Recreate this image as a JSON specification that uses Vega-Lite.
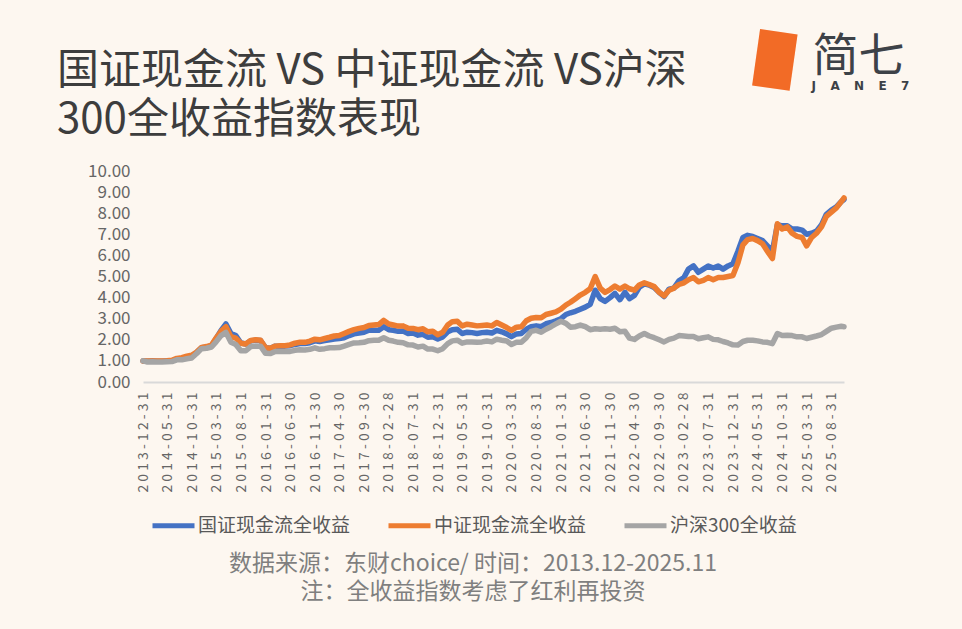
{
  "$schema": "https://vega.github.io/schema/vega-lite/v6.json",
  "width": 701,
  "height": 211,
  "autosize": {"type": "none"},
  "padding": {"left": 143, "top": 171, "right": 118, "bottom": 247},
  "background": "#fdf7f0",
  "title": {
    "text": ["国证现金流 VS 中证现金流 VS沪深", "300全收益指数表现"],
    "font": "Noto Sans CJK SC",
    "fontSize": 42,
    "fontWeight": "normal",
    "color": "#3d3d3d",
    "anchor": "start",
    "frame": "group",
    "baseline": "top",
    "lineHeight": 49,
    "dx": -86,
    "offset": -109
  },
  "datasets": {
    "gz": [
      {"d": "2013-12-31", "v": 1.00},
      {"d": "2014-01-28", "v": 0.98}, {"d": "2014-02-28", "v": 0.99}, {"d": "2014-03-28", "v": 0.98}, {"d": "2014-04-28", "v": 0.98},
      {"d": "2014-05-28", "v": 0.99}, {"d": "2014-06-28", "v": 1.00}, {"d": "2014-07-28", "v": 1.08}, {"d": "2014-08-28", "v": 1.10},
      {"d": "2014-09-28", "v": 1.17}, {"d": "2014-10-28", "v": 1.22}, {"d": "2014-11-28", "v": 1.40}, {"d": "2014-12-28", "v": 1.62},
      {"d": "2015-01-28", "v": 1.65}, {"d": "2015-02-28", "v": 1.72}, {"d": "2015-03-28", "v": 2.05}, {"d": "2015-04-28", "v": 2.45},
      {"d": "2015-05-28", "v": 2.75}, {"d": "2015-06-28", "v": 2.30}, {"d": "2015-07-28", "v": 2.20}, {"d": "2015-08-28", "v": 1.85},
      {"d": "2015-09-28", "v": 1.80}, {"d": "2015-10-28", "v": 1.95}, {"d": "2015-11-28", "v": 1.98}, {"d": "2015-12-28", "v": 1.97},
      {"d": "2016-01-28", "v": 1.62}, {"d": "2016-02-28", "v": 1.60}, {"d": "2016-03-28", "v": 1.70}, {"d": "2016-04-28", "v": 1.70},
      {"d": "2016-05-28", "v": 1.70}, {"d": "2016-06-28", "v": 1.72}, {"d": "2016-07-28", "v": 1.78}, {"d": "2016-08-28", "v": 1.82},
      {"d": "2016-09-28", "v": 1.82}, {"d": "2016-10-28", "v": 1.86}, {"d": "2016-11-28", "v": 1.95}, {"d": "2016-12-28", "v": 1.92},
      {"d": "2017-01-28", "v": 1.96}, {"d": "2017-02-28", "v": 2.00}, {"d": "2017-03-28", "v": 2.04}, {"d": "2017-04-28", "v": 2.06},
      {"d": "2017-05-28", "v": 2.10}, {"d": "2017-06-28", "v": 2.20}, {"d": "2017-07-28", "v": 2.28}, {"d": "2017-08-28", "v": 2.32},
      {"d": "2017-09-28", "v": 2.36}, {"d": "2017-10-28", "v": 2.45}, {"d": "2017-11-28", "v": 2.45}, {"d": "2017-12-28", "v": 2.45},
      {"d": "2018-01-28", "v": 2.62}, {"d": "2018-02-28", "v": 2.48}, {"d": "2018-03-28", "v": 2.45}, {"d": "2018-04-28", "v": 2.40},
      {"d": "2018-05-28", "v": 2.42}, {"d": "2018-06-28", "v": 2.30}, {"d": "2018-07-28", "v": 2.32}, {"d": "2018-08-28", "v": 2.22},
      {"d": "2018-09-28", "v": 2.26}, {"d": "2018-10-28", "v": 2.12}, {"d": "2018-11-28", "v": 2.14}, {"d": "2018-12-28", "v": 2.04},
      {"d": "2019-01-28", "v": 2.14}, {"d": "2019-02-28", "v": 2.38}, {"d": "2019-03-28", "v": 2.48}, {"d": "2019-04-28", "v": 2.50},
      {"d": "2019-05-28", "v": 2.30}, {"d": "2019-06-28", "v": 2.36}, {"d": "2019-07-28", "v": 2.34}, {"d": "2019-08-28", "v": 2.30},
      {"d": "2019-09-28", "v": 2.34}, {"d": "2019-10-28", "v": 2.36}, {"d": "2019-11-28", "v": 2.32}, {"d": "2019-12-28", "v": 2.45},
      {"d": "2020-01-28", "v": 2.38}, {"d": "2020-02-28", "v": 2.28}, {"d": "2020-03-28", "v": 2.15}, {"d": "2020-04-28", "v": 2.28},
      {"d": "2020-05-28", "v": 2.30}, {"d": "2020-06-28", "v": 2.50}, {"d": "2020-07-28", "v": 2.62}, {"d": "2020-08-28", "v": 2.66},
      {"d": "2020-09-28", "v": 2.62}, {"d": "2020-10-28", "v": 2.76}, {"d": "2020-11-28", "v": 2.82}, {"d": "2020-12-28", "v": 2.90},
      {"d": "2021-01-28", "v": 3.00}, {"d": "2021-02-28", "v": 3.20}, {"d": "2021-03-28", "v": 3.28}, {"d": "2021-04-28", "v": 3.35},
      {"d": "2021-05-28", "v": 3.45}, {"d": "2021-06-28", "v": 3.55}, {"d": "2021-07-28", "v": 3.68}, {"d": "2021-08-28", "v": 4.35},
      {"d": "2021-09-28", "v": 3.95}, {"d": "2021-10-28", "v": 3.82}, {"d": "2021-11-28", "v": 4.00}, {"d": "2021-12-28", "v": 4.20},
      {"d": "2022-01-28", "v": 3.90}, {"d": "2022-02-28", "v": 4.25}, {"d": "2022-03-28", "v": 3.95}, {"d": "2022-04-28", "v": 4.10},
      {"d": "2022-05-28", "v": 4.50}, {"d": "2022-06-28", "v": 4.65}, {"d": "2022-07-28", "v": 4.60}, {"d": "2022-08-28", "v": 4.48},
      {"d": "2022-09-28", "v": 4.25}, {"d": "2022-10-28", "v": 4.05}, {"d": "2022-11-28", "v": 4.40}, {"d": "2022-12-28", "v": 4.45},
      {"d": "2023-01-28", "v": 4.80}, {"d": "2023-02-28", "v": 4.95}, {"d": "2023-03-28", "v": 5.35}, {"d": "2023-04-28", "v": 5.50},
      {"d": "2023-05-28", "v": 5.20}, {"d": "2023-06-28", "v": 5.35}, {"d": "2023-07-28", "v": 5.50}, {"d": "2023-08-28", "v": 5.40},
      {"d": "2023-09-28", "v": 5.50}, {"d": "2023-10-28", "v": 5.35}, {"d": "2023-11-28", "v": 5.50}, {"d": "2023-12-28", "v": 5.60},
      {"d": "2024-01-28", "v": 6.20}, {"d": "2024-02-28", "v": 6.85}, {"d": "2024-03-28", "v": 6.95}, {"d": "2024-04-28", "v": 6.90},
      {"d": "2024-05-28", "v": 6.80}, {"d": "2024-06-28", "v": 6.70}, {"d": "2024-07-28", "v": 6.45}, {"d": "2024-08-28", "v": 6.20},
      {"d": "2024-09-28", "v": 7.45}, {"d": "2024-10-28", "v": 7.40}, {"d": "2024-11-28", "v": 7.40}, {"d": "2024-12-28", "v": 7.25},
      {"d": "2025-01-28", "v": 7.25}, {"d": "2025-02-28", "v": 7.20}, {"d": "2025-03-28", "v": 7.00}, {"d": "2025-04-28", "v": 7.05},
      {"d": "2025-05-28", "v": 7.15}, {"d": "2025-06-28", "v": 7.45}, {"d": "2025-07-28", "v": 7.95}, {"d": "2025-08-28", "v": 8.15},
      {"d": "2025-09-28", "v": 8.30}, {"d": "2025-10-28", "v": 8.55}, {"d": "2025-11-14", "v": 8.65}
    ],
    "zz": [
      {"d": "2013-12-31", "v": 1.00},
      {"d": "2014-01-28", "v": 0.99}, {"d": "2014-02-28", "v": 1.00}, {"d": "2014-03-28", "v": 1.00}, {"d": "2014-04-28", "v": 1.00},
      {"d": "2014-05-28", "v": 1.01}, {"d": "2014-06-28", "v": 1.03}, {"d": "2014-07-28", "v": 1.12}, {"d": "2014-08-28", "v": 1.15},
      {"d": "2014-09-28", "v": 1.22}, {"d": "2014-10-28", "v": 1.27}, {"d": "2014-11-28", "v": 1.42}, {"d": "2014-12-28", "v": 1.64},
      {"d": "2015-01-28", "v": 1.68}, {"d": "2015-02-28", "v": 1.75}, {"d": "2015-03-28", "v": 2.08}, {"d": "2015-04-28", "v": 2.40},
      {"d": "2015-05-28", "v": 2.62}, {"d": "2015-06-28", "v": 2.15}, {"d": "2015-07-28", "v": 2.08}, {"d": "2015-08-28", "v": 1.84},
      {"d": "2015-09-28", "v": 1.80}, {"d": "2015-10-28", "v": 1.97}, {"d": "2015-11-28", "v": 2.00}, {"d": "2015-12-28", "v": 1.98},
      {"d": "2016-01-28", "v": 1.62}, {"d": "2016-02-28", "v": 1.60}, {"d": "2016-03-28", "v": 1.70}, {"d": "2016-04-28", "v": 1.72},
      {"d": "2016-05-28", "v": 1.72}, {"d": "2016-06-28", "v": 1.76}, {"d": "2016-07-28", "v": 1.84}, {"d": "2016-08-28", "v": 1.88},
      {"d": "2016-09-28", "v": 1.88}, {"d": "2016-10-28", "v": 1.94}, {"d": "2016-11-28", "v": 2.03}, {"d": "2016-12-28", "v": 2.00},
      {"d": "2017-01-28", "v": 2.06}, {"d": "2017-02-28", "v": 2.12}, {"d": "2017-03-28", "v": 2.18}, {"d": "2017-04-28", "v": 2.20},
      {"d": "2017-05-28", "v": 2.30}, {"d": "2017-06-28", "v": 2.40}, {"d": "2017-07-28", "v": 2.48}, {"d": "2017-08-28", "v": 2.54},
      {"d": "2017-09-28", "v": 2.58}, {"d": "2017-10-28", "v": 2.68}, {"d": "2017-11-28", "v": 2.70}, {"d": "2017-12-28", "v": 2.72},
      {"d": "2018-01-28", "v": 2.92}, {"d": "2018-02-28", "v": 2.75}, {"d": "2018-03-28", "v": 2.70}, {"d": "2018-04-28", "v": 2.65},
      {"d": "2018-05-28", "v": 2.66}, {"d": "2018-06-28", "v": 2.55}, {"d": "2018-07-28", "v": 2.54}, {"d": "2018-08-28", "v": 2.48},
      {"d": "2018-09-28", "v": 2.52}, {"d": "2018-10-28", "v": 2.38}, {"d": "2018-11-28", "v": 2.40}, {"d": "2018-12-28", "v": 2.24},
      {"d": "2019-01-28", "v": 2.36}, {"d": "2019-02-28", "v": 2.70}, {"d": "2019-03-28", "v": 2.86}, {"d": "2019-04-28", "v": 2.88},
      {"d": "2019-05-28", "v": 2.66}, {"d": "2019-06-28", "v": 2.74}, {"d": "2019-07-28", "v": 2.70}, {"d": "2019-08-28", "v": 2.66},
      {"d": "2019-09-28", "v": 2.68}, {"d": "2019-10-28", "v": 2.70}, {"d": "2019-11-28", "v": 2.66}, {"d": "2019-12-28", "v": 2.82},
      {"d": "2020-01-28", "v": 2.70}, {"d": "2020-02-28", "v": 2.58}, {"d": "2020-03-28", "v": 2.45}, {"d": "2020-04-28", "v": 2.60},
      {"d": "2020-05-28", "v": 2.62}, {"d": "2020-06-28", "v": 2.90}, {"d": "2020-07-28", "v": 3.02}, {"d": "2020-08-28", "v": 3.06},
      {"d": "2020-09-28", "v": 3.04}, {"d": "2020-10-28", "v": 3.20}, {"d": "2020-11-28", "v": 3.26}, {"d": "2020-12-28", "v": 3.32},
      {"d": "2021-01-28", "v": 3.45}, {"d": "2021-02-28", "v": 3.65}, {"d": "2021-03-28", "v": 3.78}, {"d": "2021-04-28", "v": 3.95},
      {"d": "2021-05-28", "v": 4.12}, {"d": "2021-06-28", "v": 4.25}, {"d": "2021-07-28", "v": 4.42}, {"d": "2021-08-28", "v": 5.00},
      {"d": "2021-09-28", "v": 4.45}, {"d": "2021-10-28", "v": 4.25}, {"d": "2021-11-28", "v": 4.38}, {"d": "2021-12-28", "v": 4.55},
      {"d": "2022-01-28", "v": 4.40}, {"d": "2022-02-28", "v": 4.55}, {"d": "2022-03-28", "v": 4.42}, {"d": "2022-04-28", "v": 4.35},
      {"d": "2022-05-28", "v": 4.60}, {"d": "2022-06-28", "v": 4.70}, {"d": "2022-07-28", "v": 4.62}, {"d": "2022-08-28", "v": 4.52},
      {"d": "2022-09-28", "v": 4.25}, {"d": "2022-10-28", "v": 4.08}, {"d": "2022-11-28", "v": 4.35}, {"d": "2022-12-28", "v": 4.45},
      {"d": "2023-01-28", "v": 4.62}, {"d": "2023-02-28", "v": 4.70}, {"d": "2023-03-28", "v": 4.85}, {"d": "2023-04-28", "v": 4.95},
      {"d": "2023-05-28", "v": 4.75}, {"d": "2023-06-28", "v": 4.82}, {"d": "2023-07-28", "v": 4.95}, {"d": "2023-08-28", "v": 4.85},
      {"d": "2023-09-28", "v": 4.95}, {"d": "2023-10-28", "v": 4.95}, {"d": "2023-11-28", "v": 5.00}, {"d": "2023-12-28", "v": 5.05},
      {"d": "2024-01-28", "v": 5.65}, {"d": "2024-02-28", "v": 6.50}, {"d": "2024-03-28", "v": 6.75}, {"d": "2024-04-28", "v": 6.80},
      {"d": "2024-05-28", "v": 6.70}, {"d": "2024-06-28", "v": 6.55}, {"d": "2024-07-28", "v": 6.20}, {"d": "2024-08-28", "v": 5.85},
      {"d": "2024-09-28", "v": 7.50}, {"d": "2024-10-28", "v": 7.25}, {"d": "2024-11-28", "v": 7.35}, {"d": "2024-12-28", "v": 7.05},
      {"d": "2025-01-28", "v": 6.90}, {"d": "2025-02-28", "v": 6.85}, {"d": "2025-03-28", "v": 6.45}, {"d": "2025-04-28", "v": 6.85},
      {"d": "2025-05-28", "v": 7.05}, {"d": "2025-06-28", "v": 7.35}, {"d": "2025-07-28", "v": 7.85}, {"d": "2025-08-28", "v": 8.05},
      {"d": "2025-09-28", "v": 8.25}, {"d": "2025-10-28", "v": 8.55}, {"d": "2025-11-14", "v": 8.72}
    ],
    "hs": [
      {"d": "2013-12-31", "v": 1.00},
      {"d": "2014-01-28", "v": 0.95}, {"d": "2014-02-28", "v": 0.96}, {"d": "2014-03-28", "v": 0.95}, {"d": "2014-04-28", "v": 0.95},
      {"d": "2014-05-28", "v": 0.96}, {"d": "2014-06-28", "v": 0.97}, {"d": "2014-07-28", "v": 1.05}, {"d": "2014-08-28", "v": 1.05},
      {"d": "2014-09-28", "v": 1.10}, {"d": "2014-10-28", "v": 1.14}, {"d": "2014-11-28", "v": 1.35}, {"d": "2014-12-28", "v": 1.58},
      {"d": "2015-01-28", "v": 1.60}, {"d": "2015-02-28", "v": 1.66}, {"d": "2015-03-28", "v": 1.90}, {"d": "2015-04-28", "v": 2.20},
      {"d": "2015-05-28", "v": 2.35}, {"d": "2015-06-28", "v": 1.88}, {"d": "2015-07-28", "v": 1.78}, {"d": "2015-08-28", "v": 1.48},
      {"d": "2015-09-28", "v": 1.48}, {"d": "2015-10-28", "v": 1.68}, {"d": "2015-11-28", "v": 1.70}, {"d": "2015-12-28", "v": 1.70},
      {"d": "2016-01-28", "v": 1.36}, {"d": "2016-02-28", "v": 1.35}, {"d": "2016-03-28", "v": 1.45}, {"d": "2016-04-28", "v": 1.45},
      {"d": "2016-05-28", "v": 1.44}, {"d": "2016-06-28", "v": 1.45}, {"d": "2016-07-28", "v": 1.50}, {"d": "2016-08-28", "v": 1.53},
      {"d": "2016-09-28", "v": 1.52}, {"d": "2016-10-28", "v": 1.55}, {"d": "2016-11-28", "v": 1.62}, {"d": "2016-12-28", "v": 1.55},
      {"d": "2017-01-28", "v": 1.58}, {"d": "2017-02-28", "v": 1.62}, {"d": "2017-03-28", "v": 1.62}, {"d": "2017-04-28", "v": 1.63},
      {"d": "2017-05-28", "v": 1.70}, {"d": "2017-06-28", "v": 1.78}, {"d": "2017-07-28", "v": 1.85}, {"d": "2017-08-28", "v": 1.86},
      {"d": "2017-09-28", "v": 1.88}, {"d": "2017-10-28", "v": 1.96}, {"d": "2017-11-28", "v": 1.98}, {"d": "2017-12-28", "v": 1.98},
      {"d": "2018-01-28", "v": 2.10}, {"d": "2018-02-28", "v": 1.98}, {"d": "2018-03-28", "v": 1.94}, {"d": "2018-04-28", "v": 1.88},
      {"d": "2018-05-28", "v": 1.86}, {"d": "2018-06-28", "v": 1.76}, {"d": "2018-07-28", "v": 1.75}, {"d": "2018-08-28", "v": 1.66},
      {"d": "2018-09-28", "v": 1.70}, {"d": "2018-10-28", "v": 1.56}, {"d": "2018-11-28", "v": 1.56}, {"d": "2018-12-28", "v": 1.48},
      {"d": "2019-01-28", "v": 1.58}, {"d": "2019-02-28", "v": 1.82}, {"d": "2019-03-28", "v": 1.95}, {"d": "2019-04-28", "v": 1.98},
      {"d": "2019-05-28", "v": 1.84}, {"d": "2019-06-28", "v": 1.90}, {"d": "2019-07-28", "v": 1.90}, {"d": "2019-08-28", "v": 1.88},
      {"d": "2019-09-28", "v": 1.90}, {"d": "2019-10-28", "v": 1.94}, {"d": "2019-11-28", "v": 1.90}, {"d": "2019-12-28", "v": 2.03},
      {"d": "2020-01-28", "v": 1.98}, {"d": "2020-02-28", "v": 1.94}, {"d": "2020-03-28", "v": 1.78}, {"d": "2020-04-28", "v": 1.88},
      {"d": "2020-05-28", "v": 1.88}, {"d": "2020-06-28", "v": 2.10}, {"d": "2020-07-28", "v": 2.40}, {"d": "2020-08-28", "v": 2.45},
      {"d": "2020-09-28", "v": 2.36}, {"d": "2020-10-28", "v": 2.50}, {"d": "2020-11-28", "v": 2.62}, {"d": "2020-12-28", "v": 2.75},
      {"d": "2021-01-28", "v": 2.88}, {"d": "2021-02-28", "v": 2.78}, {"d": "2021-03-28", "v": 2.60}, {"d": "2021-04-28", "v": 2.62},
      {"d": "2021-05-28", "v": 2.70}, {"d": "2021-06-28", "v": 2.62}, {"d": "2021-07-28", "v": 2.48}, {"d": "2021-08-28", "v": 2.52},
      {"d": "2021-09-28", "v": 2.50}, {"d": "2021-10-28", "v": 2.52}, {"d": "2021-11-28", "v": 2.50}, {"d": "2021-12-28", "v": 2.55},
      {"d": "2022-01-28", "v": 2.38}, {"d": "2022-02-28", "v": 2.40}, {"d": "2022-03-28", "v": 2.08}, {"d": "2022-04-28", "v": 2.02},
      {"d": "2022-05-28", "v": 2.18}, {"d": "2022-06-28", "v": 2.30}, {"d": "2022-07-28", "v": 2.18}, {"d": "2022-08-28", "v": 2.10},
      {"d": "2022-09-28", "v": 2.00}, {"d": "2022-10-28", "v": 1.90}, {"d": "2022-11-28", "v": 2.02}, {"d": "2022-12-28", "v": 2.08},
      {"d": "2023-01-28", "v": 2.20}, {"d": "2023-02-28", "v": 2.18}, {"d": "2023-03-28", "v": 2.16}, {"d": "2023-04-28", "v": 2.16},
      {"d": "2023-05-28", "v": 2.05}, {"d": "2023-06-28", "v": 2.10}, {"d": "2023-07-28", "v": 2.14}, {"d": "2023-08-28", "v": 2.02},
      {"d": "2023-09-28", "v": 2.00}, {"d": "2023-10-28", "v": 1.92}, {"d": "2023-11-28", "v": 1.85}, {"d": "2023-12-28", "v": 1.76},
      {"d": "2024-01-28", "v": 1.75}, {"d": "2024-02-28", "v": 1.92}, {"d": "2024-03-28", "v": 1.98}, {"d": "2024-04-28", "v": 1.98},
      {"d": "2024-05-28", "v": 1.95}, {"d": "2024-06-28", "v": 1.90}, {"d": "2024-07-28", "v": 1.88}, {"d": "2024-08-28", "v": 1.82},
      {"d": "2024-09-28", "v": 2.30}, {"d": "2024-10-28", "v": 2.20}, {"d": "2024-11-28", "v": 2.22}, {"d": "2024-12-28", "v": 2.20},
      {"d": "2025-01-28", "v": 2.14}, {"d": "2025-02-28", "v": 2.14}, {"d": "2025-03-28", "v": 2.06}, {"d": "2025-04-28", "v": 2.12},
      {"d": "2025-05-28", "v": 2.18}, {"d": "2025-06-28", "v": 2.25}, {"d": "2025-07-28", "v": 2.40}, {"d": "2025-08-28", "v": 2.55},
      {"d": "2025-09-28", "v": 2.60}, {"d": "2025-10-28", "v": 2.64}, {"d": "2025-11-14", "v": 2.62}
    ]
  },
  "layer": [
    {
      "data": {"name": "gz"},
      "mark": {"type": "line", "strokeWidth": 5.5, "strokeJoin": "round", "strokeCap": "round"},
      "encoding": {
        "x": {
          "field": "d",
          "type": "temporal",
          "scale": {
            "type": "utc",
            "domain": [
              {"year": 2013, "month": 12, "date": 31, "utc": true},
              {"year": 2025, "month": 11, "date": 14, "utc": true}
            ]
          },
          "axis": {
            "values": [
              {"year": 2013, "month": 12, "date": 31, "utc": true},
              {"year": 2014, "month": 5, "date": 31, "utc": true},
              {"year": 2014, "month": 10, "date": 31, "utc": true},
              {"year": 2015, "month": 3, "date": 31, "utc": true},
              {"year": 2015, "month": 8, "date": 31, "utc": true},
              {"year": 2016, "month": 1, "date": 31, "utc": true},
              {"year": 2016, "month": 6, "date": 30, "utc": true},
              {"year": 2016, "month": 11, "date": 30, "utc": true},
              {"year": 2017, "month": 4, "date": 30, "utc": true},
              {"year": 2017, "month": 9, "date": 30, "utc": true},
              {"year": 2018, "month": 2, "date": 28, "utc": true},
              {"year": 2018, "month": 7, "date": 31, "utc": true},
              {"year": 2018, "month": 12, "date": 31, "utc": true},
              {"year": 2019, "month": 5, "date": 31, "utc": true},
              {"year": 2019, "month": 10, "date": 31, "utc": true},
              {"year": 2020, "month": 3, "date": 31, "utc": true},
              {"year": 2020, "month": 8, "date": 31, "utc": true},
              {"year": 2021, "month": 1, "date": 31, "utc": true},
              {"year": 2021, "month": 6, "date": 30, "utc": true},
              {"year": 2021, "month": 11, "date": 30, "utc": true},
              {"year": 2022, "month": 4, "date": 30, "utc": true},
              {"year": 2022, "month": 9, "date": 30, "utc": true},
              {"year": 2023, "month": 2, "date": 28, "utc": true},
              {"year": 2023, "month": 7, "date": 31, "utc": true},
              {"year": 2023, "month": 12, "date": 31, "utc": true},
              {"year": 2024, "month": 5, "date": 31, "utc": true},
              {"year": 2024, "month": 10, "date": 31, "utc": true},
              {"year": 2025, "month": 3, "date": 31, "utc": true},
              {"year": 2025, "month": 8, "date": 31, "utc": true}
            ],
            "tickCount": 60,
            "labelExpr": "join(split(utcFormat(datum.value, '%Y-%m-%d'), ''), ' ')",
            "labelAngle": 270,
            "labelAlign": "right",
            "labelBaseline": "middle",
            "labelPadding": 10,
            "labelFontSize": 14,
            "labelColor": "#666666",
            "labelOverlap": false,
            "labelFlush": false,
            "ticks": false,
            "grid": false,
            "domainColor": "#d9d9d9",
            "domainWidth": 2,
            "title": "J\u2002\u2002\u2009A\u2002\u2002\u2009N\u2002\u2002\u2009E\u2002\u2002\u20097",
            "titleFont": "DejaVu Sans",
            "titleFontSize": 12,
            "titleFontWeight": "bold",
            "titleColor": "#3c4147",
            "titleAlign": "center",
            "titleBaseline": "middle",
            "titleX": 717,
            "titleY": -297
          }
        },
        "y": {
          "field": "v",
          "type": "quantitative",
          "scale": {"domain": [0, 10], "nice": false},
          "axis": {
            "values": [0, 1, 2, 3, 4, 5, 6, 7, 8, 9, 10],
            "format": ".2f",
            "labelFontSize": 17,
            "labelColor": "#666666",
            "labelPadding": 13,
            "domain": false,
            "ticks": false,
            "grid": false,
            "title": "简七",
            "titleFontSize": 46,
            "titleFontWeight": "normal",
            "titleColor": "#3d4248",
            "titleAngle": 0,
            "titleAlign": "left",
            "titleBaseline": "middle",
            "titleX": 669,
            "titleY": -115
          }
        },
        "color": {
          "datum": "国证现金流全收益",
          "type": "nominal",
          "scale": {
            "domain": ["国证现金流全收益", "中证现金流全收益", "沪深300全收益"],
            "range": ["#4472c4", "#ed7d31", "#a5a5a5"]
          },
          "legend": {
            "orient": "none",
            "legendX": 7,
            "legendY": 331,
            "direction": "horizontal",
            "symbolType": "stroke",
            "symbolSize": 1764,
            "symbolStrokeWidth": 5,
            "labelFontSize": 19,
            "labelColor": "#595959",
            "labelOffset": 1,
            "labelLimit": 400,
            "columnPadding": 27,
            "title": ["数据来源：东财choice/ 时间：2013.12-2025.11", "注：全收益指数考虑了红利再投资"],
            "titleOrient": "bottom",
            "titleAnchor": "middle",
            "titleAlign": "center",
            "titleFontSize": 23,
            "titleFontWeight": "normal",
            "titleColor": "#7f7f7f",
            "titleLineHeight": 28,
            "titlePadding": 17,
            "titleLimit": 1000
          }
        }
      }
    },
    {
      "data": {"name": "zz"},
      "mark": {"type": "line", "strokeWidth": 5.5, "strokeJoin": "round", "strokeCap": "round"},
      "encoding": {
        "x": {"field": "d", "type": "temporal"},
        "y": {
          "field": "v",
          "type": "quantitative",
          "axis": {
            "orient": "right",
            "labels": false,
            "domain": false,
            "ticks": false,
            "grid": false,
            "title": "█",
            "titleFont": "DejaVu Sans",
            "titleFontSize": 48,
            "titleFontWeight": "normal",
            "titleColor": "#f26b26",
            "titleAngle": 8,
            "titleAlign": "center",
            "titleBaseline": "middle",
            "titleX": -70,
            "titleY": -109
          }
        },
        "color": {"datum": "中证现金流全收益", "type": "nominal"}
      }
    },
    {
      "data": {"name": "hs"},
      "mark": {"type": "line", "strokeWidth": 5.5, "strokeJoin": "round", "strokeCap": "round"},
      "encoding": {
        "x": {"field": "d", "type": "temporal"},
        "y": {"field": "v", "type": "quantitative", "axis": null},
        "color": {"datum": "沪深300全收益", "type": "nominal"}
      }
    }
  ],
  "resolve": {"axis": {"y": "independent"}},
  "config": {
    "font": "Noto Sans CJK SC",
    "view": {"stroke": null},
    "axis": {"labelOverlap": false}
  }
}
